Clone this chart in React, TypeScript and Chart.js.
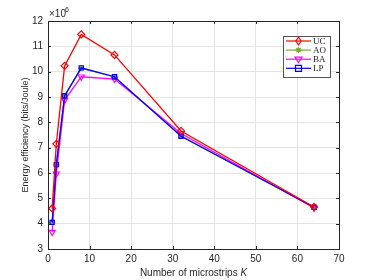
import React, { useEffect, useRef } from "react";
import { Chart, registerables } from "chart.js";
Chart.register(...registerables);

const kValues = [1, 2, 4, 8, 16, 32, 64];
const ucValues = [4.6, 7.15, 10.23, 11.47, 10.66, 7.66, 4.66];
const aoValues = [4.05, 6.32, 9.04, 10.13, 9.79, 7.47, 4.65];
const baValues = [3.67, 5.97, 8.88, 9.8, 9.71, 7.56, 4.62];
const lpValues = [4.05, 6.33, 9.05, 10.15, 9.8, 7.45, 4.65];
const xTicks = [0, 10, 20, 30, 40, 50, 60, 70];
const yTicks = [3, 4, 5, 6, 7, 8, 9, 10, 11, 12];
const legendLabels = ["UC", "AO", "BA", "LP"];

const AXIS = "#262626";
const GRID = "#e3e3e3";

function toPts(v: number[]) {
  return kValues.map((k, i) => ({ x: k, y: v[i] }));
}

const series = [
  { label: "UC", data: ucValues, color: "#ff0000", style: "rectRot", rot: 0, r: 3.5 },
  { label: "AO", data: aoValues, color: "#77ac30", style: "star", rot: 0, r: 3 },
  { label: "BA", data: baValues, color: "#ff00ff", style: "triangle", rot: 180, r: 3.5 },
  { label: "LP", data: lpValues, color: "#0000ff", style: "rect", rot: 0, r: 3 },
];
// drawing order: first in list is drawn on top
const drawOrder = [0, 3, 2, 1];

function drawMarker(ctx: CanvasRenderingContext2D, s: any, x: number, y: number) {
  ctx.save();
  ctx.strokeStyle = s.color;
  ctx.lineWidth = 1.2;
  ctx.beginPath();
  const r = s.r;
  if (s.style === "rectRot") {
    ctx.moveTo(x, y - r - 0.5);
    ctx.lineTo(x + r * 0.75, y);
    ctx.lineTo(x, y + r + 0.5);
    ctx.lineTo(x - r * 0.75, y);
    ctx.closePath();
  } else if (s.style === "rect") {
    ctx.rect(x - r, y - r, 2 * r, 2 * r);
  } else if (s.style === "triangle") {
    ctx.moveTo(x - r, y - r * 0.6);
    ctx.lineTo(x + r, y - r * 0.6);
    ctx.lineTo(x, y + r);
    ctx.closePath();
  } else {
    ctx.moveTo(x - r, y); ctx.lineTo(x + r, y);
    ctx.moveTo(x, y - r); ctx.lineTo(x, y + r);
    ctx.moveTo(x - r * 0.7, y - r * 0.7); ctx.lineTo(x + r * 0.7, y + r * 0.7);
    ctx.moveTo(x - r * 0.7, y + r * 0.7); ctx.lineTo(x + r * 0.7, y - r * 0.7);
  }
  ctx.stroke();
  ctx.restore();
}

const decor = {
  id: "decor",
  afterDraw(chart: any) {
    const { ctx, chartArea: a, scales } = chart;
    ctx.save();
    // box
    ctx.strokeStyle = AXIS;
    ctx.lineWidth = 1;
    ctx.strokeRect(a.left + 0.5, a.top + 0.5, a.right - a.left, a.bottom - a.top);
    // inner ticks
    ctx.beginPath();
    for (const t of xTicks) {
      const x = Math.round(scales.x.getPixelForValue(t)) + 0.5;
      ctx.moveTo(x, a.bottom); ctx.lineTo(x, a.bottom - 3);
      ctx.moveTo(x, a.top); ctx.lineTo(x, a.top + 3);
    }
    for (const t of yTicks) {
      const y = Math.round(scales.y.getPixelForValue(t)) + 0.5;
      ctx.moveTo(a.left, y); ctx.lineTo(a.left + 3, y);
      ctx.moveTo(a.right, y); ctx.lineTo(a.right - 3, y);
    }
    ctx.stroke();
    // x10^6
    ctx.fillStyle = AXIS;
    ctx.font = "10px 'Liberation Sans', Arial, sans-serif";
    ctx.textBaseline = "alphabetic";
    ctx.textAlign = "left";
    ctx.fillText("\u00d710", a.left + 1, a.top - 4);
    ctx.font = "7px 'Liberation Sans', Arial, sans-serif";
    ctx.fillText("6", a.left + 17, a.top - 9);
    // x title
    ctx.font = "10px 'Liberation Sans', Arial, sans-serif";
    const t1 = "Number of microstrips ";
    const w1 = ctx.measureText(t1).width;
    ctx.font = "italic 10px 'Liberation Sans', Arial, sans-serif";
    const w2 = ctx.measureText("K").width;
    const cx = (a.left + a.right) / 2;
    const sx = cx - (w1 + w2) / 2;
    ctx.font = "10px 'Liberation Sans', Arial, sans-serif";
    ctx.textBaseline = "middle";
    ctx.fillText(t1, sx, 273);
    ctx.font = "italic 10px 'Liberation Sans', Arial, sans-serif";
    ctx.fillText("K", sx + w1, 273);
    // y title
    ctx.save();
    ctx.translate(26, (a.top + a.bottom) / 2);
    ctx.rotate(-Math.PI / 2);
    ctx.textAlign = "center";
    ctx.font = "9px 'Liberation Sans', Arial, sans-serif";
    ctx.fillText("Energy efficiency (bits/Joule)", 0, 0);
    ctx.restore();
    // legend
    const lx = 283, ly = 36, lw = 47, lh = 41;
    ctx.fillStyle = "#ffffff";
    ctx.fillRect(lx, ly, lw, lh);
    ctx.strokeStyle = "#555555";
    ctx.strokeRect(lx + 0.5, ly + 0.5, lw, lh);
    series.forEach((s, i) => {
      const y = 41 + i * 9.1;
      ctx.strokeStyle = s.color;
      ctx.lineWidth = 1.2;
      ctx.beginPath();
      ctx.moveTo(lx + 3, y); ctx.lineTo(lx + 28, y);
      ctx.stroke();
      drawMarker(ctx, s, lx + 15.5, y);
      ctx.fillStyle = AXIS;
      ctx.font = "9px 'Liberation Serif', 'Times New Roman', serif";
      ctx.textAlign = "left";
      ctx.textBaseline = "middle";
      ctx.fillText(legendLabels[i], lx + 30, y + 0.5);
    });
    ctx.restore();
  },
};

export default function App() {
  const ref = useRef<HTMLCanvasElement>(null);
  useEffect(() => {
    if (!ref.current) return;
    const chart = new Chart(ref.current, {
      type: "line",
      data: {
        datasets: drawOrder.map((idx) => {
          const s = series[idx];
          return {
            label: s.label,
            data: toPts(s.data),
            borderColor: s.color,
            backgroundColor: "transparent",
            borderWidth: 1.3,
            pointStyle: s.style as any,
            rotation: s.rot,
            pointRadius: s.r,
            pointBorderWidth: 1.2,
            pointBackgroundColor: "transparent",
            pointBorderColor: s.color,
            tension: 0,
          };
        }),
      },
      options: {
        animation: false,
        responsive: false,
        layout: { padding: { left: 0, right: 35, top: 21, bottom: 0 } },
        plugins: { legend: { display: false }, tooltip: { enabled: false } },
        scales: {
          x: {
            type: "linear",
            min: 0,
            max: 70,
            afterBuildTicks: (s: any) => { s.ticks = xTicks.map((v) => ({ value: v })); },
            afterFit: (s: any) => { s.height = 31; },
            grid: { color: GRID, drawTicks: false },
            border: { display: false },
            ticks: { color: AXIS, padding: 4, font: { size: 10, family: "'Liberation Sans', Arial, sans-serif" }, maxRotation: 0 },
          },
          y: {
            type: "linear",
            min: 3,
            max: 12,
            afterBuildTicks: (s: any) => { s.ticks = yTicks.map((v) => ({ value: v })); },
            afterFit: (s: any) => { s.width = 48; },
            grid: { color: GRID, drawTicks: false },
            border: { display: false },
            ticks: { color: AXIS, padding: 5, font: { size: 10, family: "'Liberation Sans', Arial, sans-serif" } },
          },
        },
      },
      plugins: [decor],
    });
    return () => chart.destroy();
  }, []);
  return (
    <div style={{ position: "fixed", left: 0, top: 0, width: 374, height: 280, background: "#fff" }}>
      <canvas ref={ref} width={374} height={280} style={{ width: 374, height: 280 }} />
    </div>
  );
}
